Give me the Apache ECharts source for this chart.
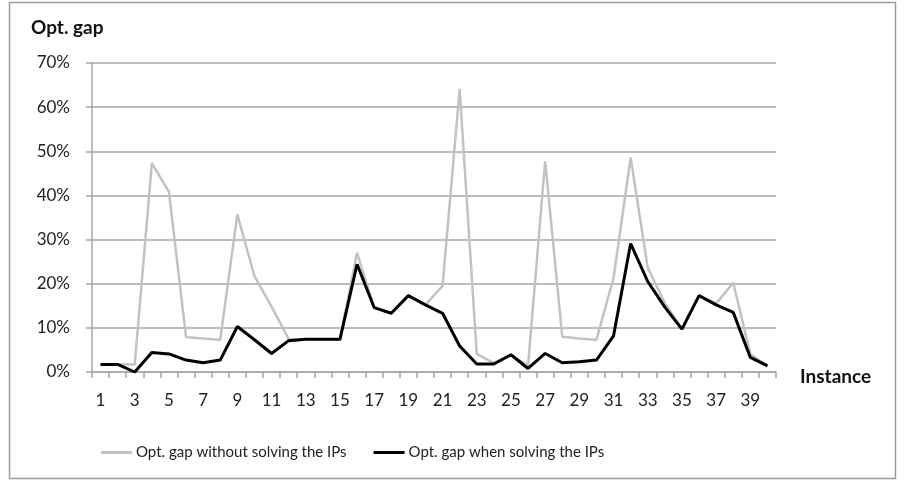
<!DOCTYPE html>
<html>
<head>
<meta charset="utf-8">
<script src="https://cdn.jsdelivr.net/npm/echarts@6/dist/echarts.min.js"></script>
<style>
  html, body { margin: 0; padding: 0; background: #fff; }
  #chart { width: 914px; height: 483px; }
</style>
</head>
<body>
<div id="chart"></div>
<script>
const instances = ['1','2','3','4','5','6','7','8','9','10','11','12','13','14','15','16','17','18','19','20',
  '21','22','23','24','25','26','27','28','29','30','31','32','33','34','35','36','37','38','39','40'];

// opt. gap in %
const gapWithout = [1.7, 1.7, 1.7, 47.3, 40.8, 7.9, 7.6, 7.3, 35.7, 21.7,
  14.8, 7.5, 7.4, 7.4, 7.4, 27.0, 14.6, 13.3, 17.3, 15.2,
  19.5, 64.1, 4.1, 2.0, 3.9, 1.4, 47.8, 8.0, 7.6, 7.3,
  21.3, 48.6, 23.6, 15.6, 9.7, 17.3, 15.5, 20.2, 4.0, 1.4];
const gapWhen = [1.7, 1.7, 0.0, 4.4, 4.1, 2.7, 2.1, 2.7, 10.3, 7.3,
  4.2, 7.1, 7.4, 7.4, 7.4, 24.4, 14.6, 13.3, 17.3, 15.2,
  13.3, 5.9, 1.8, 1.8, 3.9, 0.8, 4.2, 2.1, 2.3, 2.7,
  8.2, 29.1, 20.5, 14.7, 9.7, 17.3, 15.2, 13.5, 3.3, 1.4];

const seriesNames = ['Opt. gap without solving the IPs', 'Opt. gap when solving the IPs'];

const font = 'Lato, "Open Sans", sans-serif';
const gridColor = '#a6a6a6';

const chart = echarts.init(document.getElementById('chart'), null, { renderer: 'canvas' });

chart.setOption({
  animation: false,
  textStyle: { fontFamily: font },
  grid: { left: 92, right: 138, top: 63, bottom: 111, containLabel: false },
  title: [
    {
      text: 'Opt. gap', left: 26, top: 13,
      textStyle: { fontFamily: font, fontSize: 19, fontWeight: 'bold', color: '#111' }
    },
    {
      text: 'Instance', left: 795, top: 362,
      textStyle: { fontFamily: font, fontSize: 19, fontWeight: 'bold', color: '#111' }
    }
  ],
  graphic: [
    {
      type: 'rect',
      shape: { x: 9.5, y: 2.5, width: 886, height: 476 },
      style: { fill: 'none', stroke: '#9a9a9a', lineWidth: 1.5 }
    }
  ],
  legend: {
    left: 96,
    top: 440,
    icon: 'rect',
    itemWidth: 31,
    itemHeight: 3,
    itemGap: 27,
    textStyle: { fontFamily: font, fontSize: 15, color: '#222', padding: [0, 0, 0, -1] },
    data: seriesNames
  },
  xAxis: {
    type: 'category',
    data: instances,
    boundaryGap: true,
    axisLine: { lineStyle: { color: gridColor, width: 1.5 } },
    axisTick: { show: true, interval: 0, length: 6, lineStyle: { color: gridColor, width: 1.5 } },
    axisLabel: { interval: 1, margin: 20, fontSize: 17, color: '#222', fontFamily: font }
  },
  yAxis: {
    type: 'value',
    min: 0,
    max: 70,
    interval: 10,
    axisLine: { show: true, lineStyle: { color: gridColor, width: 1.5 } },
    axisTick: { show: true, length: 6, lineStyle: { color: gridColor, width: 1.5 } },
    axisLabel: { formatter: '{value}%', margin: 22, fontSize: 17, color: '#222', fontFamily: font },
    splitLine: { lineStyle: { color: gridColor, width: 1.5 } }
  },
  series: [
    {
      name: seriesNames[0],
      type: 'line',
      data: gapWithout,
      symbol: 'none',
      lineStyle: { color: '#c2c2c2', width: 2.5 },
      itemStyle: { color: '#c2c2c2' }
    },
    {
      name: seriesNames[1],
      type: 'line',
      data: gapWhen,
      symbol: 'none',
      lineStyle: { color: '#000', width: 3 },
      itemStyle: { color: '#000' }
    }
  ]
});
</script>
</body>
</html>
